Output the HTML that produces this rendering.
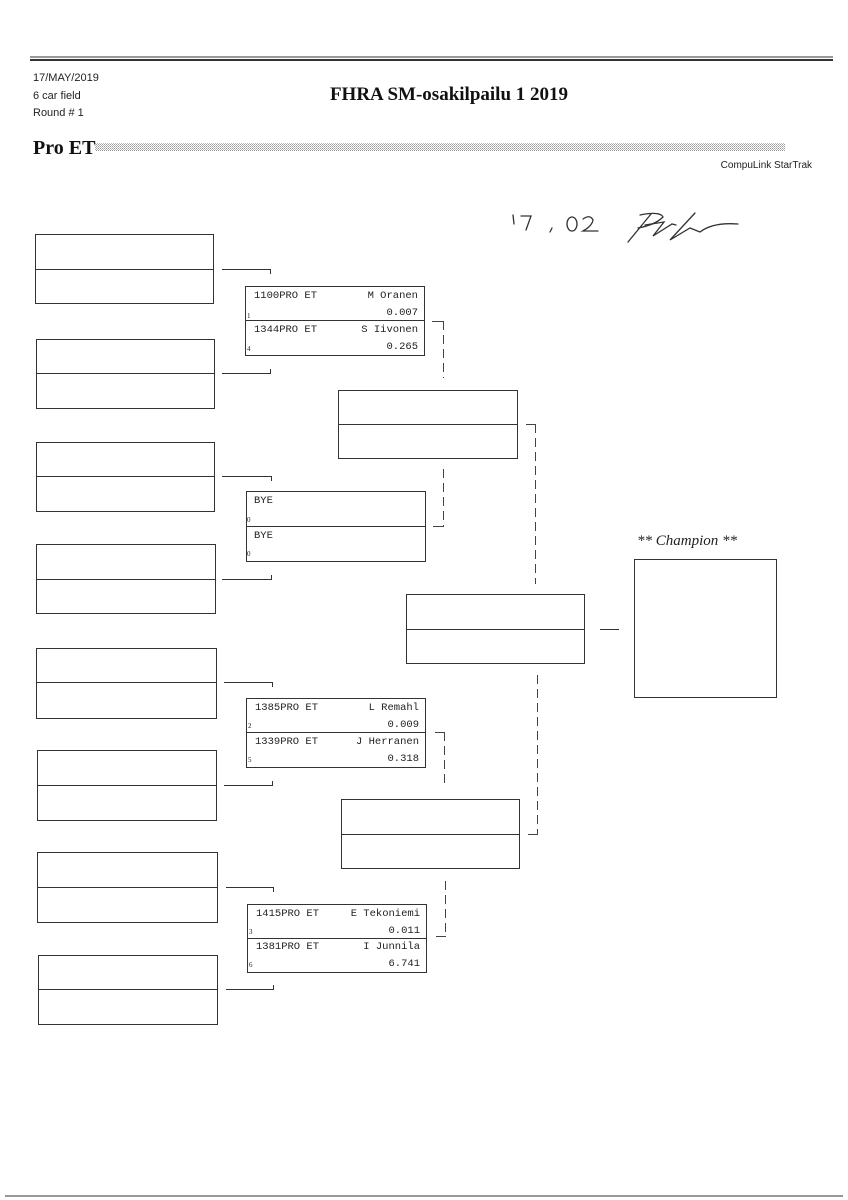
<!DOCTYPE html>
<html><head><meta charset="utf-8"><style>
html,body{margin:0;padding:0;background:#fff}
svg{display:block}
.m{font-family:"Liberation Mono","DejaVu Sans Mono",monospace;font-size:10.5px;fill:#222}
.s{font-family:"Liberation Serif",serif;font-size:7px;fill:#222}
</style></head><body>
<svg width="848" height="1200" viewBox="0 0 848 1200" xmlns="http://www.w3.org/2000/svg">
<defs>
<pattern id="dots" width="2" height="2" patternUnits="userSpaceOnUse">
<rect width="1" height="1" fill="#999"/><rect x="1" y="1" width="1" height="1" fill="#bbb"/>
</pattern>
</defs>
<g stroke="#333" fill="none">
<line x1="30" y1="57" x2="833" y2="57" stroke-width="1"/>
<line x1="30" y1="60" x2="833" y2="60" stroke-width="2"/>
<line x1="5" y1="1196" x2="843" y2="1196" stroke-width="1.5" stroke="#777"/>
</g>
<rect x="95" y="143" width="690" height="8" fill="url(#dots)"/>
<g font-family="Liberation Sans, sans-serif" font-size="11" fill="#222">
<text x="33" y="81">17/MAY/2019</text>
<text x="33" y="99">6 car field</text>
<text x="33" y="116">Round # 1</text>
<text x="812" y="168" text-anchor="end" font-size="10">CompuLink StarTrak</text>
</g>
<text x="449" y="100" text-anchor="middle" font-family="Liberation Serif, serif" font-weight="bold" font-size="19" fill="#111">FHRA SM-osakilpailu 1 2019</text>
<text x="33" y="154" font-family="Liberation Serif, serif" font-weight="bold" font-size="20" fill="#111">Pro ET</text>
<text x="637" y="545" font-family="Liberation Serif, serif" font-style="italic" font-size="15" fill="#222">** Champion **</text>
<g stroke="#333" stroke-width="1.3" fill="none" stroke-linecap="round">
<path d="M513 215 L514 224"/><path d="M521 216 L531 216 L526 230"/>
<path d="M552 228 L550 232"/>
<ellipse cx="572" cy="224" rx="5" ry="7"/>
<path d="M583 219 Q590 214 593 220 Q592 226 583 231 L598 231"/>
<path d="M640 215 Q660 211 663 217 Q655 225 638 228"/><path d="M651 214 L628 242"/>
<path d="M645 225 L664 222 L653 236 L672 224 L676 225"/>
<path d="M695 213 L670 240 L690 228 L700 232 Q713 222 738 224"/>
</g>
<g stroke="#333" stroke-width="1" fill="none">
<rect x="35.5" y="234.5" width="178" height="69"/><line x1="35" y1="269.5" x2="214" y2="269.5"/>
<rect x="36.5" y="339.5" width="178" height="69"/><line x1="36" y1="373.5" x2="215" y2="373.5"/>
<rect x="36.5" y="442.5" width="178" height="69"/><line x1="36" y1="476.5" x2="215" y2="476.5"/>
<rect x="36.5" y="544.5" width="179" height="69"/><line x1="36" y1="579.5" x2="216" y2="579.5"/>
<rect x="36.5" y="648.5" width="180" height="70"/><line x1="36" y1="682.5" x2="217" y2="682.5"/>
<rect x="37.5" y="750.5" width="179" height="70"/><line x1="37" y1="785.5" x2="217" y2="785.5"/>
<rect x="37.5" y="852.5" width="180" height="70"/><line x1="37" y1="887.5" x2="218" y2="887.5"/>
<rect x="38.5" y="955.5" width="179" height="69"/><line x1="38" y1="989.5" x2="218" y2="989.5"/>
<path d="M222 269.5 H270.5 V274"/><path d="M222 373.5 H270.5 V369"/>
<path d="M222 476.5 H271.5 V481"/><path d="M222 579.5 H271.5 V575"/>
<path d="M224 682.5 H272.5 V687"/><path d="M224 785.5 H272.5 V781"/>
<path d="M226 887.5 H273.5 V892"/><path d="M226 989.5 H273.5 V985"/>
<rect x="245.5" y="286.5" width="179" height="69"/><line x1="245" y1="320.5" x2="425" y2="320.5"/>
<rect x="246.5" y="491.5" width="179" height="70"/><line x1="246" y1="526.5" x2="426" y2="526.5"/>
<rect x="246.5" y="698.5" width="179" height="69"/><line x1="246" y1="732.5" x2="426" y2="732.5"/>
<rect x="247.5" y="904.5" width="179" height="68"/><line x1="247" y1="938.5" x2="427" y2="938.5"/>
<rect x="338.5" y="390.5" width="179" height="68"/><line x1="338" y1="424.5" x2="518" y2="424.5"/>
<rect x="341.5" y="799.5" width="178" height="69"/><line x1="341" y1="834.5" x2="520" y2="834.5"/>
<rect x="406.5" y="594.5" width="178" height="69"/><line x1="406" y1="629.5" x2="585" y2="629.5"/>
<line x1="600" y1="629.5" x2="619" y2="629.5"/>
<rect x="634.5" y="559.5" width="142" height="138"/>
</g>
<g stroke="#444" stroke-width="1" fill="none">
<line x1="432" y1="321.5" x2="443" y2="321.5"/>
<line x1="443.5" y1="321" x2="443.5" y2="378" stroke-dasharray="9,5"/>
<line x1="443.5" y1="469" x2="443.5" y2="526" stroke-dasharray="9,5"/>
<line x1="433" y1="526.5" x2="444" y2="526.5"/>
<line x1="526" y1="424.5" x2="536" y2="424.5"/>
<line x1="535.5" y1="424" x2="535.5" y2="584" stroke-dasharray="9,5"/>
<line x1="537.5" y1="675" x2="537.5" y2="834" stroke-dasharray="9,5"/>
<line x1="528" y1="834.5" x2="538" y2="834.5"/>
<line x1="435" y1="732.5" x2="444" y2="732.5"/>
<line x1="444.5" y1="732" x2="444.5" y2="788" stroke-dasharray="9,5"/>
<line x1="445.5" y1="881" x2="445.5" y2="936" stroke-dasharray="9,5"/>
<line x1="436" y1="936.5" x2="446" y2="936.5"/>
</g>
<g class="m">
<text x="254" y="298">1100PRO ET</text><text x="418" y="298" text-anchor="end">M Oranen</text>
<text x="418" y="315" text-anchor="end">0.007</text>
<text x="254" y="332">1344PRO ET</text><text x="418" y="332" text-anchor="end">S Iivonen</text>
<text x="418" y="349" text-anchor="end">0.265</text>
<text x="254" y="503">BYE</text>
<text x="254" y="538">BYE</text>
<text x="255" y="710">1385PRO ET</text><text x="419" y="710" text-anchor="end">L Remahl</text>
<text x="419" y="727" text-anchor="end">0.009</text>
<text x="255" y="744">1339PRO ET</text><text x="419" y="744" text-anchor="end">J Herranen</text>
<text x="419" y="761" text-anchor="end">0.318</text>
<text x="256" y="916">1415PRO ET</text><text x="420" y="916" text-anchor="end">E Tekoniemi</text>
<text x="420" y="933" text-anchor="end">0.011</text>
<text x="256" y="949">1381PRO ET</text><text x="420" y="949" text-anchor="end">I Junnila</text>
<text x="420" y="966" text-anchor="end">6.741</text>
</g>
<g class="s">
<text x="247" y="318">1</text><text x="247" y="351">4</text>
<text x="247" y="522">0</text><text x="247" y="556">0</text>
<text x="248" y="728">2</text><text x="248" y="762">5</text>
<text x="249" y="934">3</text><text x="249" y="967">6</text>
</g>
</svg>
</body></html>
